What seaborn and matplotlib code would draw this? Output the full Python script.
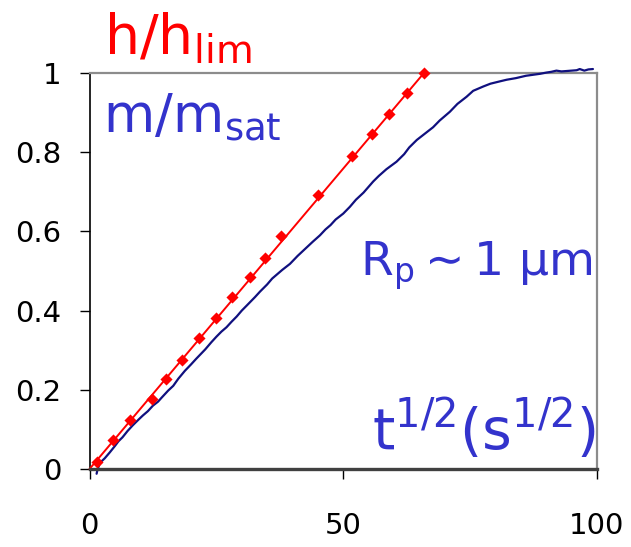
import matplotlib
matplotlib.use("Agg")
import matplotlib.pyplot as plt
import seaborn as sns
import pandas as pd

# ---- data ----
h_x = [1.42, 4.57, 7.98, 12.26, 15.0, 18.3, 21.5, 25.0, 28.1, 31.6, 34.6, 37.7,
       45.0, 51.8, 55.7, 59.1, 62.6, 65.9]
h_y = [0.018, 0.073, 0.124, 0.178, 0.227, 0.275, 0.330, 0.381, 0.435, 0.484, 0.534, 0.588,
       0.692, 0.791, 0.846, 0.896, 0.949, 0.999]
fit_x = [0.0, 65.9]
fit_y = [0.0, 1.0]

m_x = [1.4, 1.6, 2.1, 3.0, 4.0, 5.0, 5.7, 6.5, 7.5, 8.5, 9.6, 10.5, 11.5, 12.5, 13.5, 14.2,
       15.5, 16.5, 17.5, 18.8, 20, 21, 22.8, 24, 25, 26, 27, 28, 29, 30, 31, 32.6, 33.6, 35,
       36, 37, 38, 39.5, 41, 42, 43, 44, 45.4, 46.5, 47.5, 48.5, 50, 51.3, 52.5, 54, 55.9, 57,
       58.5, 60.5, 62, 63, 64.5, 66, 67.7, 69, 71, 72.5, 74.3, 75.6, 77.6, 79, 80.9, 82.2, 84,
       86, 88.8, 90, 91, 92, 93, 94, 95, 96, 96.6, 97.5, 98.3, 99.2]
m_y = [-0.012, 0.0, 0.016, 0.027, 0.042, 0.058, 0.070, 0.080, 0.096, 0.110, 0.124, 0.135,
       0.146, 0.160, 0.170, 0.180, 0.198, 0.210, 0.228, 0.248, 0.264, 0.278, 0.302, 0.320,
       0.334, 0.347, 0.358, 0.372, 0.385, 0.400, 0.413, 0.434, 0.448, 0.466, 0.481, 0.492,
       0.503, 0.518, 0.538, 0.550, 0.562, 0.574, 0.590, 0.605, 0.616, 0.630, 0.645, 0.662,
       0.680, 0.698, 0.726, 0.740, 0.757, 0.776, 0.795, 0.812, 0.831, 0.846, 0.863, 0.880,
       0.902, 0.922, 0.940, 0.955, 0.966, 0.973, 0.979, 0.983, 0.987, 0.993, 0.998, 1.001,
       1.003, 1.006, 1.004, 1.005, 1.006, 1.007, 1.010, 1.006, 1.009, 1.010]

x_ticks = [0, 50, 100]
y_ticks = [0, 0.2, 0.4, 0.6, 0.8, 1]
y_tick_labels = ["0", "0.2", "0.4", "0.6", "0.8", "1"]

sns.set_style("white")
plt.rcParams['font.family'] = ['DejaVu Sans']
plt.rcParams['mathtext.fontset'] = 'dejavusans'

W, H = 631, 547
fig = plt.figure(figsize=(W / 100, H / 100), dpi=100)
ax = fig.add_axes([89.5 / W, 1 - 469 / H, (597 - 89.5) / W, (469 - 73) / H])

df_m = pd.DataFrame({"x": m_x, "y": m_y})
df_h = pd.DataFrame({"x": h_x, "y": h_y})
df_fit = pd.DataFrame({"x": fit_x, "y": fit_y})

sns.lineplot(data=df_m, x="x", y="y", ax=ax, color="#10107f", lw=1.6, sort=False,
             estimator=None, clip_on=False, zorder=3)
sns.lineplot(data=df_fit, x="x", y="y", ax=ax, color="#ff0000", lw=1.4, sort=False,
             estimator=None, clip_on=False, zorder=4)
sns.scatterplot(data=df_h, x="x", y="y", ax=ax, color="#ff0000", marker="D", s=38,
                edgecolor="#ff0000", linewidth=0, clip_on=False, zorder=5)

ax.set_xlim(0, 100)
ax.set_ylim(0, 1)
ax.set_xticks(x_ticks)
ax.set_yticks(y_ticks)
ax.set_yticklabels(y_tick_labels)
ax.set_xlabel("")
ax.set_ylabel("")

for s in ["top", "right"]:
    ax.spines[s].set_color("#8c8c8c")
    ax.spines[s].set_linewidth(1.6)
ax.spines["left"].set_color("#000000")
ax.spines["left"].set_linewidth(1.2)
ax.spines["bottom"].set_color("#404040")
ax.spines["bottom"].set_linewidth(2.4)
ax.spines["bottom"].set_zorder(6)

ax.tick_params(axis="y", direction="out", length=7, width=1, color="black",
               labelsize=21, pad=13, left=True, labelcolor="black")
ax.tick_params(axis="x", direction="out", length=7, width=1, color="black",
               labelsize=21, pad=24, bottom=True, labelcolor="black")

def fx(px):
    return px / W

def fy(py):
    return 1 - py / H

fig.text(fx(104), fy(54), r"$\mathregular{h/h_{lim}}$", color="#ff0000", fontsize=40,
         ha="left", va="baseline")
fig.text(fx(103), fy(132), r"$\mathregular{m/m_{sat}}$", color="#3333cc", fontsize=38,
         ha="left", va="baseline")
fig.text(fx(360), fy(275), r"$\mathregular{R_p \sim 1\ \mu m}$", color="#3333cc",
         fontsize=34, ha="left", va="baseline")
fig.text(fx(372), fy(450), r"$\mathregular{t^{1/2}(s^{1/2})}$", color="#3333cc",
         fontsize=41, ha="left", va="baseline")

fig.savefig("out.png", dpi=100, facecolor="white")
